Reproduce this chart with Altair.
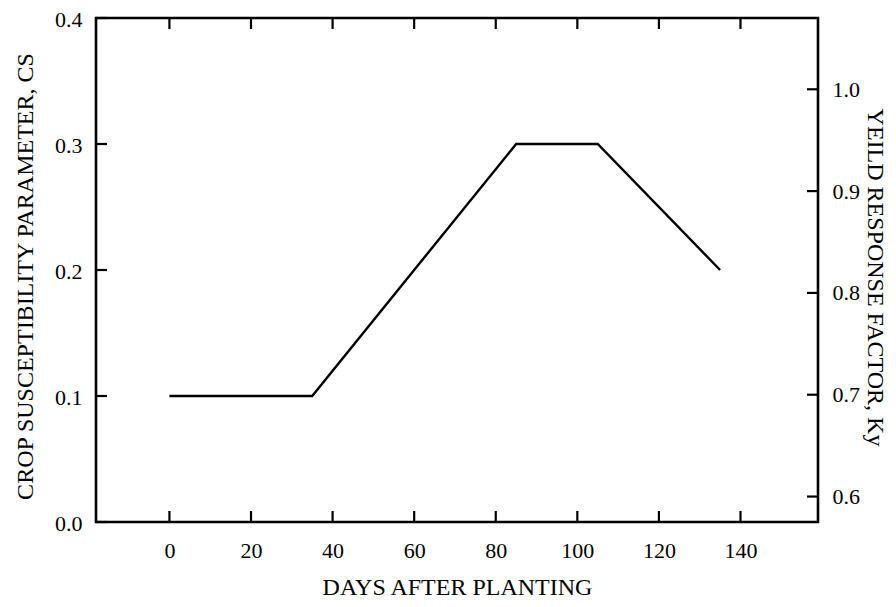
import altair as alt
import pandas as pd

days = [0, 35, 85, 105, 135]
cs = [0.1, 0.1, 0.3, 0.3, 0.2]
x_ticks = [0, 20, 40, 60, 80, 100, 120, 140]
cs_ticks = [0.0, 0.1, 0.2, 0.3, 0.4]
ky_ticks = [0.6, 0.7, 0.8, 0.9, 1.0]

W, H = 722, 504
TL = 11
FONT = "Liberation Serif, Times New Roman, Times, serif"

xscale = alt.Scale(domain=[-18, 159], nice=False, zero=False)
cs_scale = alt.Scale(domain=[0.0, 0.4], nice=False, zero=False)
ky_scale = alt.Scale(domain=[0.575, 1.07], nice=False, zero=False)

line_df = pd.DataFrame({"day": days, "cs": cs})
xt_df = pd.DataFrame({"v": x_ticks})
cst_df = pd.DataFrame({"v": cs_ticks})
kyt_df = pd.DataFrame({"v": ky_ticks})

x_axis = alt.Axis(values=x_ticks, title="DAYS AFTER PLANTING",
                  labelPadding=35, labelBaseline="alphabetic",
                  titleBaseline="alphabetic", titleY=72, titleFontSize=24)
cs_axis = alt.Axis(values=cs_ticks, format=".1f", orient="left",
                   title="CROP SUSCEPTIBILITY PARAMETER, CS",
                   labelPadding=14, labelOffset=1.5, titleBaseline="alphabetic",
                   titleX=-64, titleY=258, titleFontSize=24)
ky_axis = alt.Axis(values=ky_ticks, format=".1f", orient="right",
                   title="YEILD RESPONSE FACTOR, Ky",
                   labelPadding=14, titleBaseline="alphabetic",
                   titleX=49, titleY=259, titleFontSize=24)

line = alt.Chart(line_df).mark_line(color="black", strokeWidth=2.4).encode(
    x=alt.X("day:Q", scale=xscale, axis=x_axis),
    y=alt.Y("cs:Q", scale=cs_scale, axis=cs_axis),
)

left_ticks = alt.Chart(cst_df).mark_rule(color="black", strokeWidth=2.2).encode(
    y=alt.Y("v:Q", scale=cs_scale, axis=cs_axis),
    x=alt.value(0), x2=alt.value(TL),
)

top_ticks = alt.Chart(xt_df).mark_rule(color="black", strokeWidth=2.2).encode(
    x=alt.X("v:Q", scale=xscale, axis=x_axis),
    y=alt.value(0), y2=alt.value(TL),
)
bottom_ticks = alt.Chart(xt_df).mark_rule(color="black", strokeWidth=2.2).encode(
    x=alt.X("v:Q", scale=xscale, axis=x_axis),
    y=alt.value(H - TL), y2=alt.value(H),
)

right_ticks = alt.Chart(kyt_df).mark_rule(color="black", strokeWidth=2.2).encode(
    y=alt.Y("v:Q", scale=ky_scale, axis=ky_axis),
    x=alt.value(W - TL), x2=alt.value(W),
)

left = alt.layer(line, left_ticks, top_ticks, bottom_ticks)
right = alt.layer(right_ticks)

chart = alt.layer(left, right).resolve_scale(y="independent").properties(
    width=W, height=H,
    autosize=alt.AutoSizeParams(type="none"),
    padding={"left": 88, "top": 10, "right": 70, "bottom": 77},
).configure_view(
    stroke="black", strokeWidth=2.6
).configure_axis(
    domain=False, ticks=False, grid=False,
    labelFont=FONT, labelFontSize=22, labelColor="black",
    titleFont=FONT, titleFontWeight="normal", titleColor="black",
    titleAlign="center", titleAnchor="middle",
)

chart.save("out.html", embed_options={"renderer": "svg", "actions": False})
